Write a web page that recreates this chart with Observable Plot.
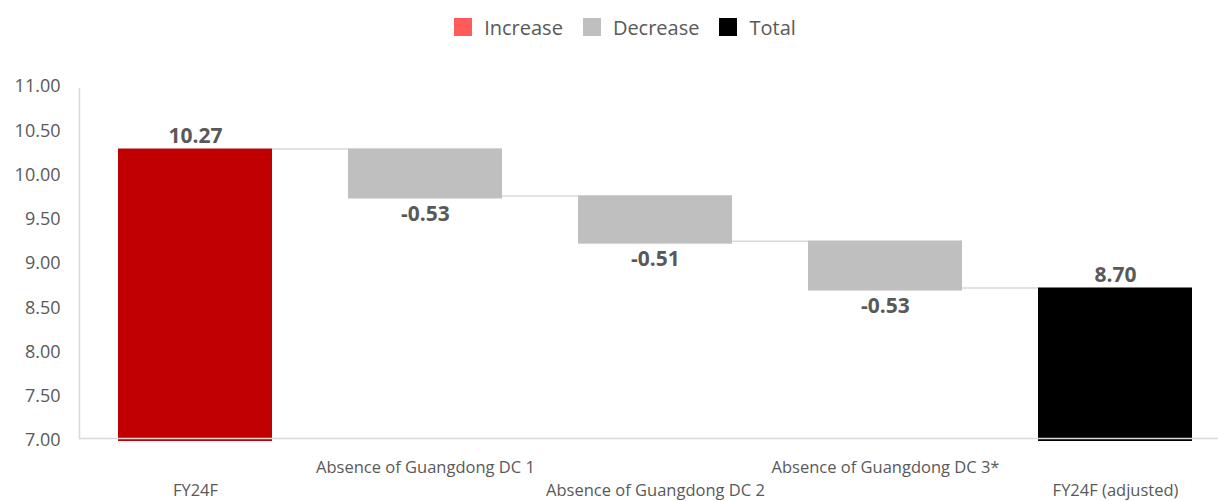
<!DOCTYPE html>
<html><head><meta charset="utf-8">
<script src="https://cdn.jsdelivr.net/npm/d3@7"></script>
<script src="https://cdn.jsdelivr.net/npm/@observablehq/plot@0.6"></script>
<style>
body{margin:0;background:#fff;font-family:"Open Sans",sans-serif;width:1218px;height:501px;overflow:hidden;}
#legend{height:50px;display:flex;justify-content:center;align-items:center;font-size:20px;color:#595959;padding-left:32px;padding-top:4px;box-sizing:border-box;}
.item{display:flex;align-items:center;margin:0 10px;}
.sw{width:18px;height:18px;margin-right:12px;display:inline-block;}
</style></head><body>
<div id="legend"></div>
<div id="chart"></div>
<script>
const categories = ["FY24F","Absence of Guangdong DC 1","Absence of Guangdong DC 2","Absence of Guangdong DC 3*","FY24F (adjusted)"];
const values = [10.27,-0.53,-0.51,-0.53,8.70];
const kinds = ["Start","Decrease","Decrease","Decrease","Total"];
const legendLabels = ["Increase","Decrease","Total"];
const yTicks = [7,7.5,8,8.5,9,9.5,10,10.5,11];
const baseValue = 7;

const fillFor = {Start:"#C00000", Increase:"#FF5B5B", Decrease:"#BFBFBF", Total:"#000000"};
const legendFill = {Increase:"#FF5B5B", Decrease:"#BFBFBF", Total:"#000000"};

// build waterfall rows
let running = 0;
const rows = categories.map((c,i)=>{
  const v = values[i], k = kinds[i];
  let y1, y2;
  if (k === "Start" || k === "Total") { y1 = baseValue; y2 = v; running = v; }
  else { y1 = running; y2 = running + v; running = y2; }
  return {cat:c, y1, y2, kind:k, label:v.toFixed(2), top: Math.max(y1,y2), bottom: Math.min(y1,y2), end: running};
});
const connectors = rows.slice(0,-1).map((r,i)=>({x1:r.cat, x2:rows[i+1].cat, y:r.end}));

// legend
const lg = document.getElementById("legend");
legendLabels.forEach(l=>{
  const it = document.createElement("span"); it.className="item";
  const sw = document.createElement("span"); sw.className="sw"; sw.style.background = legendFill[l];
  it.appendChild(sw); it.appendChild(document.createTextNode(l)); lg.appendChild(it);
});

const chart = Plot.plot({
  width: 1218,
  height: 451,
  marginLeft: 79,
  marginRight: 0,
  marginTop: 34,
  marginBottom: 63,
  style: {fontFamily: '"Open Sans", sans-serif', background: "#fff"},
  x: {type:"band", domain: categories, range:[79,1232], paddingInner:0.33, paddingOuter:0.165, axis:null},
  y: {domain:[7,11], axis:null},
  marks: [
    Plot.ruleY(connectors, {x1:"x1", x2:"x2", y:"y", stroke:"#D9D9D9", strokeWidth:1.5}),
    Plot.barY(rows, {x:"cat", y1:"y1", y2:"y2", fill: d=>fillFor[d.kind], insetBottom:-3}),
    Plot.ruleY([baseValue], {stroke:"#D9D9D9", strokeWidth:1.5}),
    Plot.frame({anchor:"left", stroke:"#D9D9D9", strokeWidth:1.5, dy:4, insetBottom:4}),
    Plot.axisY(yTicks, {tickSize:0, tickPadding:19, dy:2, tickFormat: d=>d.toFixed(2), fontSize:18, fill:"#595959"}),
    Plot.text(rows.filter(d=>d.kind!=="Decrease"), {x:"cat", y:"top", text:"label", dy:-13, fontSize:21, fontWeight:"bold", fill:"#595959"}),
    Plot.text(rows.filter(d=>d.kind==="Decrease"), {x:"cat", y:"bottom", text:"label", dy:18, fontSize:21, fontWeight:"bold", fill:"#595959"}),
    Plot.text(categories.filter((d,i)=>i%2===1), {x:d=>d, frameAnchor:"bottom", dy:34, fontSize:16.5, fill:"#595959"}),
    Plot.text(categories.filter((d,i)=>i%2===0), {x:d=>d, frameAnchor:"bottom", dy:57, fontSize:16.5, fill:"#595959"})
  ]
});
document.getElementById("chart").appendChild(chart);
</script>
</body></html>
